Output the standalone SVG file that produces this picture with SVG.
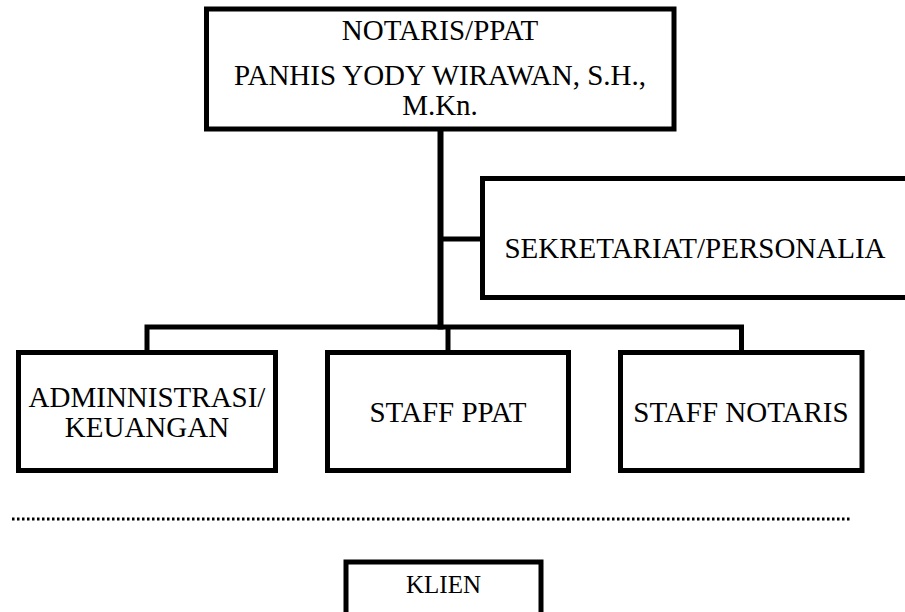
<svg xmlns="http://www.w3.org/2000/svg" width="905" height="612" viewBox="0 0 905 612">
<style>
.box{fill:#fff;stroke:#000;stroke-width:5;stroke-linejoin:miter}
.ln{fill:none;stroke:#000;stroke-width:5}
.t{font-family:"Liberation Serif","Times New Roman",serif;font-size:29px;fill:#000;text-anchor:middle}
</style>
<rect width="905" height="612" fill="#fff"/>
<g id="connectors">
<line class="ln" x1="440.5" y1="129" x2="440.5" y2="329.5" style="stroke-width:6"/>
<line class="ln" x1="440.5" y1="239" x2="482.5" y2="239"/>
<polyline class="ln" points="147,352.5 147,327 741.5,327 741.5,352.5"/>
<line class="ln" x1="448" y1="327" x2="448" y2="352.5"/>
<line x1="12" y1="519" x2="852" y2="519" stroke="#000" stroke-width="3" stroke-dasharray="2.5 2.5"/>
</g>
<g id="notaris">
<rect class="box" x="206.5" y="9" width="467.5" height="120"/>
<text class="t" x="440" y="40">NOTARIS/PPAT</text>
<text class="t" x="440" y="85">PANHIS YODY WIRAWAN, S.H.,</text>
<text class="t" x="440" y="115">M.Kn.</text>
</g>
<g id="sekretariat">
<rect class="box" x="482.5" y="178.5" width="426" height="119"/>
<text class="t" x="695" y="258">SEKRETARIAT/PERSONALIA</text>
</g>
<g id="administrasi">
<rect class="box" x="18.5" y="352.5" width="257" height="118"/>
<text class="t" x="147" y="406.5">ADMINNISTRASI/</text>
<text class="t" x="147" y="436.5">KEUANGAN</text>
</g>
<g id="staff-ppat">
<rect class="box" x="327.5" y="352.5" width="241" height="118"/>
<text class="t" x="448" y="421.5">STAFF PPAT</text>
</g>
<g id="staff-notaris">
<rect class="box" x="620.5" y="352.5" width="241.5" height="118"/>
<text class="t" x="741" y="421.5">STAFF NOTARIS</text>
</g>
<g id="klien">
<rect class="box" x="346" y="562" width="195" height="60"/>
<text class="t" x="443.5" y="593" style="font-size:25px">KLIEN</text>
</g>
</svg>
